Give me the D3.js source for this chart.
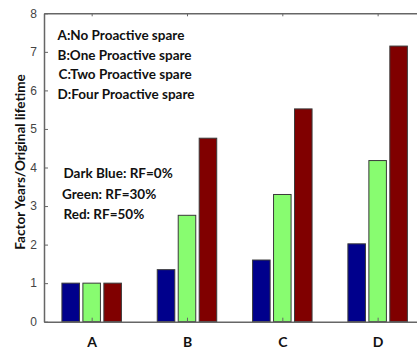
<!DOCTYPE html>
<html>
<head>
<meta charset="utf-8">
<script src="https://cdn.jsdelivr.net/npm/d3@7"></script>
<style>
  body { margin: 0; background: #fff; }
  .note { font-family: Lato, "Open Sans", sans-serif; font-weight: bold; font-size: 13.5px; fill: #111; }
  .tick text { font-family: "Liberation Sans", Arial, sans-serif; font-size: 12px; fill: #444; }
</style>
</head>
<body>
<script>
// data
const categories = ["A", "B", "C", "D"];
const seriesNames = ["RF=0%", "RF=30%", "RF=50%"];
const blueValues = [1.0, 1.35, 1.6, 2.02];
const greenValues = [1.0, 2.76, 3.3, 4.18];
const redValues = [1.0, 4.76, 5.52, 7.15];
const yTicks = [0, 1, 2, 3, 4, 5, 6, 7, 8];
const legendLines = ["A:No Proactive spare", "B:One Proactive spare", "C:Two Proactive spare", "D:Four Proactive spare"];
const colourLines = ["Dark Blue: RF=0%", "Green: RF=30%", "Red: RF=50%"];
const colours = ["#00008c", "#88fc70", "#800000"];

const width = 417, height = 351;
const mLeft = 44, mTop = 13.3, plotH = 308.4, plotW = 381.3;

let svg = d3.select("body").append("svg")
    .attr("width", width)
    .attr("height", height);

// x as positions 1..4, xlim 0.5..4.5 like the original plot
let x = d3.scaleLinear().domain([0.5, 4.5]).range([mLeft, mLeft + plotW]);
let y = d3.scaleLinear().domain([0, 8]).range([mTop + plotH, mTop]);

let series = [blueValues, greenValues, redValues];
let barW = 0.184, stride = 0.22;

let rows = [];
for (let s = 0; s < series.length; s++)
{
    for (let i = 0; i < categories.length; i++)
    {
        rows.push({ s: s, i: i, v: series[s][i] });
    }
}

svg.selectAll("rect.bar")
    .data(rows)
    .enter()
    .append("rect")
    .attr("class", "bar")
    .attr("x", d => x(d.i + 1 + (d.s - 1) * stride - barW / 2))
    .attr("width", d => x(d.i + 1 + barW / 2) - x(d.i + 1 - barW / 2))
    .attr("y", d => y(d.v))
    .attr("height", d => y(0) - y(d.v))
    .attr("fill", d => colours[d.s])
    .attr("stroke", "#3a3a3a")
    .attr("stroke-width", 1);

// left axis, ticks inward
let yAxis = svg.append("g")
    .attr("transform", `translate(${mLeft},0)`)
    .call(d3.axisLeft(y).tickValues(yTicks).tickSizeInner(-4).tickSizeOuter(0).tickPadding(7));
yAxis.select(".domain").attr("stroke", "#666").attr("stroke-width", 1.5);
yAxis.selectAll(".tick line").attr("stroke", "#666");

// bottom axis with category labels
let xAxis = svg.append("g")
    .attr("transform", `translate(0,${y(0)})`)
    .call(d3.axisBottom(x).tickValues([1, 2, 3, 4]).tickFormat((d, i) => categories[i]).tickSizeInner(-4).tickSizeOuter(0).tickPadding(15));
xAxis.select(".domain").attr("stroke", "#666").attr("stroke-width", 1.5);
xAxis.selectAll(".tick line").attr("stroke", "#666");
xAxis.selectAll(".tick text")
    .style("font-family", "Lato, sans-serif")
    .style("font-weight", "bold")
    .style("font-size", "14px")
    .style("fill", "#111");

// top box edge
let topAxis = svg.append("g")
    .attr("transform", `translate(0,${y(8)})`)
    .call(d3.axisBottom(x).tickValues([1, 2, 3, 4]).tickFormat("").tickSizeInner(3).tickSizeOuter(0));
topAxis.select(".domain").attr("stroke", "#666").attr("stroke-width", 1.5);
topAxis.selectAll(".tick line").attr("stroke", "#666");

// y title
svg.append("text")
    .attr("class", "note")
    .attr("transform", "translate(24.5,162) rotate(-90)")
    .attr("text-anchor", "middle")
    .text("Factor Years/Original lifetime");

// annotations
let legendY = [40, 60, 79, 99];
let legendX = [57.5, 57.5, 58.5, 57.5];
svg.selectAll("text.leg")
    .data(legendLines)
    .enter()
    .append("text")
    .attr("class", "note leg")
    .attr("x", (d, i) => legendX[i])
    .attr("y", (d, i) => legendY[i])
    .text(d => d);

let colourY = [178, 199, 219];
let colourX = [63.5, 62, 63.5];
svg.selectAll("text.col")
    .data(colourLines)
    .enter()
    .append("text")
    .attr("class", "note col")
    .attr("x", (d, i) => colourX[i])
    .attr("y", (d, i) => colourY[i])
    .text(d => d);
</script>
</body>
</html>
